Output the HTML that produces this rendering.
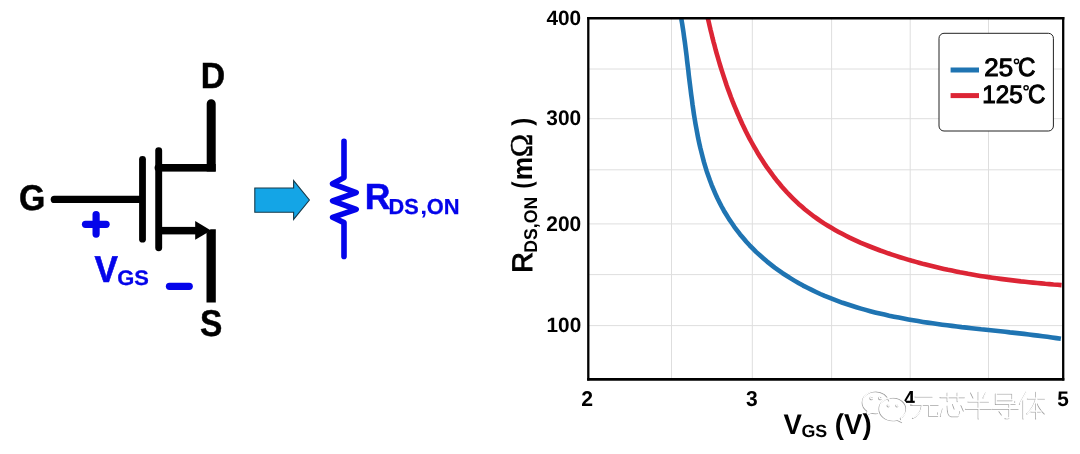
<!DOCTYPE html>
<html>
<head>
<meta charset="utf-8">
<title>RDS,ON vs VGS</title>
<style>
html,body{margin:0;padding:0;background:#fff;}
body{width:1080px;height:454px;overflow:hidden;font-family:"Liberation Sans",sans-serif;}
svg{display:block;position:absolute;left:0;top:0;filter:blur(0.35px);}
text{font-family:"Liberation Sans",sans-serif;text-rendering:geometricPrecision;}
.b{font-weight:bold;}
</style>
</head>
<body>
<svg width="1080" height="454" viewBox="0 0 1080 454">
<rect x="0" y="0" width="1080" height="454" fill="#ffffff"/>

<!-- ===== MOSFET symbol ===== -->
<g id="mosfet" stroke="#000" fill="none" stroke-linecap="round">
  <!-- gate lead -->
  <line x1="54.3" y1="199.4" x2="141" y2="199.4" stroke-width="7.2"/>
  <!-- gate plate -->
  <line x1="142.5" y1="159.3" x2="142.5" y2="239.2" stroke-width="6.8"/>
  <!-- channel -->
  <line x1="158.7" y1="150.6" x2="158.7" y2="247.7" stroke-width="6.9"/>
</g>
<!-- drain arm + lead -->
<rect x="158.4" y="164" width="57.3" height="7.6" fill="#000"/><circle cx="158.4" cy="167.8" r="3.8" fill="#000"/>
<path d="M206.7,171.6 L206.7,103.8 A4.5,4.5 0 0 1 215.7,103.8 L215.7,171.6 Z" fill="#000"/>
<!-- source arm -->
<rect x="158.7" y="226.9" width="40" height="7.5" fill="#000"/>
<!-- source arrow head + lead -->
<polygon points="195.2,221 211,230.4 195.2,239.7" fill="#000"/>
<polygon points="206.5,233 210.5,229.3 215.8,229.3 215.8,302.4 206.5,302.4" fill="#000"/>

<!-- blue annotations -->
<g stroke="#0404ea" stroke-linecap="round" fill="none">
  <line x1="85.5" y1="224.3" x2="106.1" y2="224.3" stroke-width="7.2"/>
  <line x1="96.1" y1="214.5" x2="96.1" y2="234.1" stroke-width="7.2"/>
  <line x1="169.5" y1="286.3" x2="189.2" y2="286.3" stroke-width="7.3"/>
</g>

<!-- ===== block arrow ===== -->
<polygon points="254.8,188 293.6,188 293.6,180.6 309.4,200 293.6,219.4 293.6,212.3 254.8,212.3" fill="#14a5e6" stroke="#173a4a" stroke-width="1.1" stroke-linejoin="miter"/>

<!-- ===== resistor ===== -->
<polyline points="344,141.3 344,177.6 332.6,183.8 356.2,192.6 332.6,200.9 356.2,209.4 332.6,217.3 344,222.6 344,256.4" fill="none" stroke="#0404ea" stroke-width="5.6" stroke-linecap="round" stroke-linejoin="round"/>

<!-- ===== chart ===== -->
<g stroke="#dedede" stroke-width="1" fill="none">
  <line x1="671.5" y1="18" x2="671.5" y2="379"/>
  <line x1="752.3" y1="18" x2="752.3" y2="379"/>
  <line x1="831.6" y1="18" x2="831.6" y2="379"/>
  <line x1="910.2" y1="18" x2="910.2" y2="379"/>
  <line x1="988.5" y1="18" x2="988.5" y2="379"/>
  <line x1="589" y1="69" x2="1063" y2="69"/>
  <line x1="589" y1="118.7" x2="1063" y2="118.7"/>
  <line x1="589" y1="169.8" x2="1063" y2="169.8"/>
  <line x1="589" y1="223.9" x2="1063" y2="223.9"/>
  <line x1="589" y1="274.6" x2="1063" y2="274.6"/>
  <line x1="589" y1="325.6" x2="1063" y2="325.6"/>
</g>
<clipPath id="plotclip"><rect x="588" y="17" width="476" height="363"/></clipPath>
<g clip-path="url(#plotclip)" fill="none" stroke-width="4.6" stroke-linecap="butt" stroke-linejoin="round">
  <path d="M681.3,18.8 L682.1,23.3 L682.8,27.9 L683.5,32.5 L684.1,37.1 L684.8,41.8 L685.4,46.5 L686.0,51.2 L686.6,56.0 L687.1,60.8 L687.7,65.6 L688.3,70.4 L688.8,75.2 L689.4,80.1 L690.0,84.9 L690.6,89.8 L691.2,94.6 L691.9,99.5 L692.5,104.4 L693.2,109.2 L693.9,114.1 L694.7,119.0 L695.5,123.8 L696.4,128.6 L697.3,133.5 L698.2,138.3 L699.2,143.0 L700.3,147.8 L701.5,152.5 L702.7,157.2 L703.9,161.9 L705.3,166.6 L706.7,171.2 L708.3,175.7 L709.9,180.3 L711.6,184.8 L713.4,189.2 L715.3,193.6 L717.3,198.0 L719.4,202.2 L721.6,206.5 L723.9,210.7 L726.4,214.8 L728.9,218.9 L731.6,222.8 L734.3,226.8 L737.2,230.6 L740.1,234.4 L743.2,238.1 L746.3,241.7 L749.6,245.3 L752.9,248.7 L756.3,252.1 L759.9,255.3 L763.5,258.5 L767.1,261.6 L770.9,264.6 L774.7,267.6 L778.6,270.4 L782.6,273.2 L786.6,275.8 L790.7,278.4 L794.8,280.9 L798.9,283.3 L803.1,285.6 L807.4,287.8 L811.7,289.9 L816.0,292.0 L820.3,294.0 L824.7,295.9 L829.2,297.7 L833.6,299.4 L838.1,301.1 L842.6,302.8 L847.2,304.3 L851.8,305.8 L856.4,307.2 L861.0,308.6 L865.6,309.9 L870.3,311.2 L875.0,312.4 L879.7,313.5 L884.5,314.6 L889.2,315.7 L894.0,316.7 L898.8,317.6 L903.6,318.5 L908.4,319.4 L913.2,320.3 L918.0,321.1 L922.9,321.9 L927.7,322.6 L932.6,323.3 L937.4,324.0 L942.3,324.7 L947.2,325.3 L952.0,325.9 L956.9,326.5 L961.7,327.1 L966.6,327.6 L971.5,328.2 L976.3,328.7 L981.1,329.3 L986.0,329.8 L990.8,330.3 L995.6,330.8 L1000.4,331.3 L1005.2,331.8 L1009.9,332.4 L1014.7,332.9 L1019.4,333.4 L1024.1,333.9 L1028.8,334.5 L1033.5,335.1 L1038.1,335.6 L1042.7,336.2 L1047.3,336.8 L1051.9,337.5 L1056.4,338.1 L1060.9,338.8" stroke="#1f74b2"/>
  <path d="M707.9,18.5 L708.8,22.3 L709.7,26.2 L710.6,30.1 L711.6,34.0 L712.5,37.9 L713.5,41.8 L714.6,45.7 L715.6,49.7 L716.7,53.6 L717.9,57.6 L719.0,61.5 L720.2,65.5 L721.4,69.4 L722.7,73.4 L724.0,77.4 L725.3,81.3 L726.6,85.3 L728.0,89.2 L729.5,93.1 L730.9,97.0 L732.4,100.9 L734.0,104.8 L735.6,108.7 L737.2,112.5 L738.9,116.4 L740.6,120.2 L742.3,124.0 L744.1,127.7 L745.9,131.5 L747.8,135.2 L749.7,138.9 L751.7,142.5 L753.7,146.1 L755.8,149.7 L757.9,153.3 L760.0,156.8 L762.3,160.3 L764.5,163.7 L766.8,167.1 L769.2,170.4 L771.6,173.7 L774.0,177.0 L776.5,180.2 L779.1,183.3 L781.7,186.5 L784.4,189.5 L787.1,192.5 L789.9,195.4 L792.8,198.3 L795.7,201.1 L798.6,203.9 L801.7,206.6 L804.7,209.2 L807.9,211.7 L811.1,214.2 L814.3,216.7 L817.6,219.0 L821.0,221.3 L824.4,223.6 L827.9,225.7 L831.4,227.8 L835.0,229.9 L838.6,231.9 L842.2,233.8 L845.9,235.7 L849.6,237.6 L853.3,239.3 L857.1,241.1 L860.9,242.8 L864.7,244.4 L868.6,246.0 L872.4,247.5 L876.3,249.0 L880.2,250.5 L884.2,251.9 L888.1,253.3 L892.0,254.6 L896.0,255.9 L900.0,257.2 L903.9,258.4 L907.9,259.6 L911.9,260.8 L915.9,261.9 L919.8,263.0 L923.8,264.1 L927.8,265.1 L931.8,266.1 L935.9,267.1 L939.9,268.0 L943.9,268.9 L947.9,269.8 L951.9,270.6 L956.0,271.5 L960.0,272.3 L964.1,273.0 L968.1,273.8 L972.2,274.5 L976.2,275.2 L980.3,275.9 L984.3,276.5 L988.4,277.1 L992.4,277.7 L996.5,278.3 L1000.6,278.9 L1004.6,279.4 L1008.7,279.9 L1012.8,280.4 L1016.8,280.9 L1020.9,281.4 L1025.0,281.8 L1029.0,282.2 L1033.1,282.6 L1037.2,283.0 L1041.3,283.4 L1045.3,283.8 L1049.4,284.1 L1053.5,284.5 L1057.5,284.8 L1061.6,285.1" stroke="#dc2535"/>
</g>
<g stroke="#000" fill="none" stroke-linecap="butt">
  <line x1="587.15" y1="18.2" x2="1064.35" y2="18.2" stroke-width="2.6"/>
  <line x1="587.15" y1="379.4" x2="1064.35" y2="379.4" stroke-width="2.6"/>
  <line x1="588.3" y1="17" x2="588.3" y2="380.6" stroke-width="2.3"/>
  <line x1="1063.2" y1="17" x2="1063.2" y2="380.6" stroke-width="2.3"/>
</g>

<!-- legend -->
<rect x="939" y="33.3" width="114.4" height="97.7" rx="5" ry="5" fill="#fff" stroke="#222" stroke-width="1"/>
<rect x="950.6" y="67.5" width="28.4" height="5" fill="#1f74b2"/>
<rect x="950.6" y="93.1" width="28.4" height="5" fill="#dc2535"/>

<circle cx="1016.5" cy="61.4" r="2.1" fill="none" stroke="#000" stroke-width="1.4"/>
<circle cx="1026.1" cy="87.8" r="2.1" fill="none" stroke="#000" stroke-width="1.4"/>
<!-- texts -->
<text transform="translate(200.64,88.00) scale(0.9284,1)" font-size="36.38" class="b" fill="#000" stroke="#000" stroke-width="0.5">D</text>
<text transform="translate(18.95,210.34) scale(0.9418,1)" font-size="35.92" class="b" fill="#000" stroke="#000" stroke-width="0.5">G</text>
<text transform="translate(200.09,335.93) scale(0.8975,1)" font-size="37.32" class="b" fill="#000" stroke="#000" stroke-width="0.5">S</text>
<text transform="translate(94.45,282.30) scale(0.9381,1)" font-size="37.39" class="b" fill="#0404ea" stroke="#0404ea" stroke-width="0.6">V</text>
<text transform="translate(117.32,285.09) scale(1.0441,1)" font-size="20.99" class="b" fill="#0404ea" stroke="#0404ea" stroke-width="0.3">GS</text>
<text transform="translate(364.81,209.40) scale(0.9774,1)" font-size="36.38" class="b" fill="#0404ea" stroke="#0404ea" stroke-width="0.5">R</text>
<text transform="translate(388.58,213.68) scale(1.0013,1)" font-size="21.69" class="b" fill="#0404ea" stroke="#0404ea" stroke-width="0.3">DS</text>
<text transform="translate(420.15,213.60) scale(1.1364,1)" font-size="22.00" class="b" fill="#0404ea">,</text>
<text transform="translate(426.83,213.68) scale(1.0083,1)" font-size="21.69" class="b" fill="#0404ea" stroke="#0404ea" stroke-width="0.3">ON</text>
<text transform="translate(546.48,24.89) scale(1.0050,1)" font-size="20.70" class="b" fill="#000">400</text>
<text transform="translate(546.37,124.89) scale(0.9881,1)" font-size="21.13" class="b" fill="#000">300</text>
<text transform="translate(546.27,230.79) scale(0.9910,1)" font-size="21.13" class="b" fill="#000">200</text>
<text transform="translate(546.55,332.29) scale(1.0029,1)" font-size="20.70" class="b" fill="#000">100</text>
<text transform="translate(581.36,406.00) scale(0.9905,1)" font-size="21.43" class="b" fill="#000">2</text>
<text transform="translate(746.07,406.08) scale(0.9755,1)" font-size="21.55" class="b" fill="#000">3</text>
<text transform="translate(903.80,406.00) scale(0.9200,1)" font-size="21.74" class="b" fill="#000">4</text>
<text transform="translate(1057.28,405.79) scale(0.9905,1)" font-size="21.00" class="b" fill="#000">5</text>
<text transform="translate(984.31,76.15) scale(1.0324,1)" font-size="25.07" fill="#000" stroke="#000" stroke-width="1.05">25</text>
<text transform="translate(1018.09,76.44) scale(0.9260,1)" font-size="26.06" fill="#000" stroke="#000" stroke-width="1.05">C</text>
<text transform="translate(982.36,102.65) scale(0.9622,1)" font-size="25.21" fill="#000" stroke="#000" stroke-width="1.05">125</text>
<text transform="translate(1027.99,102.84) scale(0.9260,1)" font-size="26.06" fill="#000" stroke="#000" stroke-width="1.05">C</text>
<text transform="translate(783.62,433.90) scale(0.9695,1)" font-size="28.41" class="b" fill="#000">V</text>
<text transform="translate(801.39,436.72) scale(1.0149,1)" font-size="17.61" class="b" fill="#000">GS</text>
<text transform="rotate(-90) translate(-272.69,531.70) scale(1.0188,1)" font-size="28.12" fill="#000" stroke="#000" stroke-width="1.0">R</text>
<text transform="rotate(-90) translate(-252.74,536.72) scale(0.9570,1)" font-size="18.45" class="b" fill="#000">DS,ON</text>
<text transform="rotate(-90) translate(-188.47,531.39) scale(0.7877,1)" font-size="27.20" class="b" fill="#000">(</text>
<text transform="rotate(-90) translate(-180.25,531.60) scale(0.9396,1)" font-size="28.15" class="b" fill="#000">m</text>
<text transform="rotate(-90) translate(-157.27,531.90) scale(0.9871,1)" font-size="31.82" style="font-family:'Liberation Serif',serif" fill="#000" stroke="#000" stroke-width="0.5">Ω</text>
<text transform="rotate(-90) translate(-125.64,531.39) scale(0.8713,1)" font-size="27.20" class="b" fill="#000">)</text>

<!-- watermark -->

<rect x="902" y="402.9" width="15" height="4.2" fill="#fff"/><rect x="910.4" y="404.6" width="3" height="1" fill="#333"/>
<g fill="none" stroke-linecap="round" stroke-linejoin="round" stroke="#ffffff" stroke-width="2.6" transform="translate(0.6,-0.6)">
  <!-- wechat bubbles -->
  <path d="M888.6,401 C887.6,395.6 882,391.6 875.4,391.6 C868,391.6 862.2,396.6 862.2,402.8 C862.2,406.4 864.3,409.5 867.4,411.5 L866,415.4 L870.8,413 C872.2,413.4 873.7,413.6 875.4,413.6 L877.6,413.5"/>
  <path d="M892.6,398 C885,398 879,403 879,409.3 C879,415.7 885,420.8 892.6,420.8 C894.1,420.8 895.6,420.6 897,420.2 L901.6,422.6 L900.3,418.5 C903.8,416.5 906,413.1 906,409.3 C906,403 900,398 892.6,398 Z"/>
  <circle cx="871.2" cy="398.4" r="1.3"/><circle cx="880" cy="398.4" r="1.3"/>
  <circle cx="888.2" cy="405.8" r="1.1"/><circle cx="896.9" cy="405.8" r="1.1"/>
  <!-- 元 -->
  <path d="M915,397 H932 M912,405.4 H938 M921.5,405.6 C921,411.5 918,416 912.4,418.4 M928.6,405.6 V416.2 H937.6 V412.8"/>
  <!-- 芯 -->
  <path d="M940,397.6 H964.4 M947.2,393 V401.6 M957.2,393 V401.6 M942.6,409 L940.4,416.4 M947.2,406 C947.2,412 948,416.6 951,416.6 H957.6 C959.4,416.6 959.6,414 959.8,411.6 M952.6,404.6 L954.2,409 M961,405.6 L963.4,411"/>
  <!-- 半 -->
  <path d="M970.6,393 L973,398 M985.6,393 L983,398 M968,402 H988.4 M965.4,409.2 H991.2 M978.2,392.2 V419"/>
  <!-- 导 -->
  <path d="M995.4,394 H1012 V400.6 H995.4 M995.4,394 V404.4 H1015 V401.4 M992.4,409.2 H1018 M1009,405 V417.4 C1009,418.8 1007.4,419 1005,418.6 M999,411.6 L1001.4,415"/>
  <!-- 体 -->
  <path d="M1026,392.2 L1019.4,404.2 M1023,400 V419 M1027.4,399 H1044.4 M1035.6,392.2 V419 M1035.4,400 C1033.6,406 1030.6,410.6 1026.8,414 M1035.8,400 C1037.6,406 1040.6,410.6 1044.4,414 M1031,412 H1040.2"/>
</g>
<g fill="none" stroke-linecap="round" stroke-linejoin="round" stroke="#a4a4a4" stroke-width="1.1">
  <!-- wechat bubbles -->
  <path d="M888.6,401 C887.6,395.6 882,391.6 875.4,391.6 C868,391.6 862.2,396.6 862.2,402.8 C862.2,406.4 864.3,409.5 867.4,411.5 L866,415.4 L870.8,413 C872.2,413.4 873.7,413.6 875.4,413.6 L877.6,413.5"/>
  <path d="M892.6,398 C885,398 879,403 879,409.3 C879,415.7 885,420.8 892.6,420.8 C894.1,420.8 895.6,420.6 897,420.2 L901.6,422.6 L900.3,418.5 C903.8,416.5 906,413.1 906,409.3 C906,403 900,398 892.6,398 Z"/>
  <circle cx="871.2" cy="398.4" r="1.3"/><circle cx="880" cy="398.4" r="1.3"/>
  <circle cx="888.2" cy="405.8" r="1.1"/><circle cx="896.9" cy="405.8" r="1.1"/>
  <!-- 元 -->
  <path d="M915,397 H932 M912,405.4 H938 M921.5,405.6 C921,411.5 918,416 912.4,418.4 M928.6,405.6 V416.2 H937.6 V412.8"/>
  <!-- 芯 -->
  <path d="M940,397.6 H964.4 M947.2,393 V401.6 M957.2,393 V401.6 M942.6,409 L940.4,416.4 M947.2,406 C947.2,412 948,416.6 951,416.6 H957.6 C959.4,416.6 959.6,414 959.8,411.6 M952.6,404.6 L954.2,409 M961,405.6 L963.4,411"/>
  <!-- 半 -->
  <path d="M970.6,393 L973,398 M985.6,393 L983,398 M968,402 H988.4 M965.4,409.2 H991.2 M978.2,392.2 V419"/>
  <!-- 导 -->
  <path d="M995.4,394 H1012 V400.6 H995.4 M995.4,394 V404.4 H1015 V401.4 M992.4,409.2 H1018 M1009,405 V417.4 C1009,418.8 1007.4,419 1005,418.6 M999,411.6 L1001.4,415"/>
  <!-- 体 -->
  <path d="M1026,392.2 L1019.4,404.2 M1023,400 V419 M1027.4,399 H1044.4 M1035.6,392.2 V419 M1035.4,400 C1033.6,406 1030.6,410.6 1026.8,414 M1035.8,400 C1037.6,406 1040.6,410.6 1044.4,414 M1031,412 H1040.2"/>
</g>
<g fill="none" stroke-linecap="round" stroke-linejoin="round" stroke="#ffffff" stroke-width="1.3" transform="translate(0.8,-0.8)">
  <!-- wechat bubbles -->
  <path d="M888.6,401 C887.6,395.6 882,391.6 875.4,391.6 C868,391.6 862.2,396.6 862.2,402.8 C862.2,406.4 864.3,409.5 867.4,411.5 L866,415.4 L870.8,413 C872.2,413.4 873.7,413.6 875.4,413.6 L877.6,413.5"/>
  <path d="M892.6,398 C885,398 879,403 879,409.3 C879,415.7 885,420.8 892.6,420.8 C894.1,420.8 895.6,420.6 897,420.2 L901.6,422.6 L900.3,418.5 C903.8,416.5 906,413.1 906,409.3 C906,403 900,398 892.6,398 Z"/>
  <circle cx="871.2" cy="398.4" r="1.3"/><circle cx="880" cy="398.4" r="1.3"/>
  <circle cx="888.2" cy="405.8" r="1.1"/><circle cx="896.9" cy="405.8" r="1.1"/>
  <!-- 元 -->
  <path d="M915,397 H932 M912,405.4 H938 M921.5,405.6 C921,411.5 918,416 912.4,418.4 M928.6,405.6 V416.2 H937.6 V412.8"/>
  <!-- 芯 -->
  <path d="M940,397.6 H964.4 M947.2,393 V401.6 M957.2,393 V401.6 M942.6,409 L940.4,416.4 M947.2,406 C947.2,412 948,416.6 951,416.6 H957.6 C959.4,416.6 959.6,414 959.8,411.6 M952.6,404.6 L954.2,409 M961,405.6 L963.4,411"/>
  <!-- 半 -->
  <path d="M970.6,393 L973,398 M985.6,393 L983,398 M968,402 H988.4 M965.4,409.2 H991.2 M978.2,392.2 V419"/>
  <!-- 导 -->
  <path d="M995.4,394 H1012 V400.6 H995.4 M995.4,394 V404.4 H1015 V401.4 M992.4,409.2 H1018 M1009,405 V417.4 C1009,418.8 1007.4,419 1005,418.6 M999,411.6 L1001.4,415"/>
  <!-- 体 -->
  <path d="M1026,392.2 L1019.4,404.2 M1023,400 V419 M1027.4,399 H1044.4 M1035.6,392.2 V419 M1035.4,400 C1033.6,406 1030.6,410.6 1026.8,414 M1035.8,400 C1037.6,406 1040.6,410.6 1044.4,414 M1031,412 H1040.2"/>
</g>
<text transform="translate(834.82,433.77) scale(0.9600,1)" font-size="28.71" class="b" fill="#000">(V)</text>
</svg>
</body>
</html>
